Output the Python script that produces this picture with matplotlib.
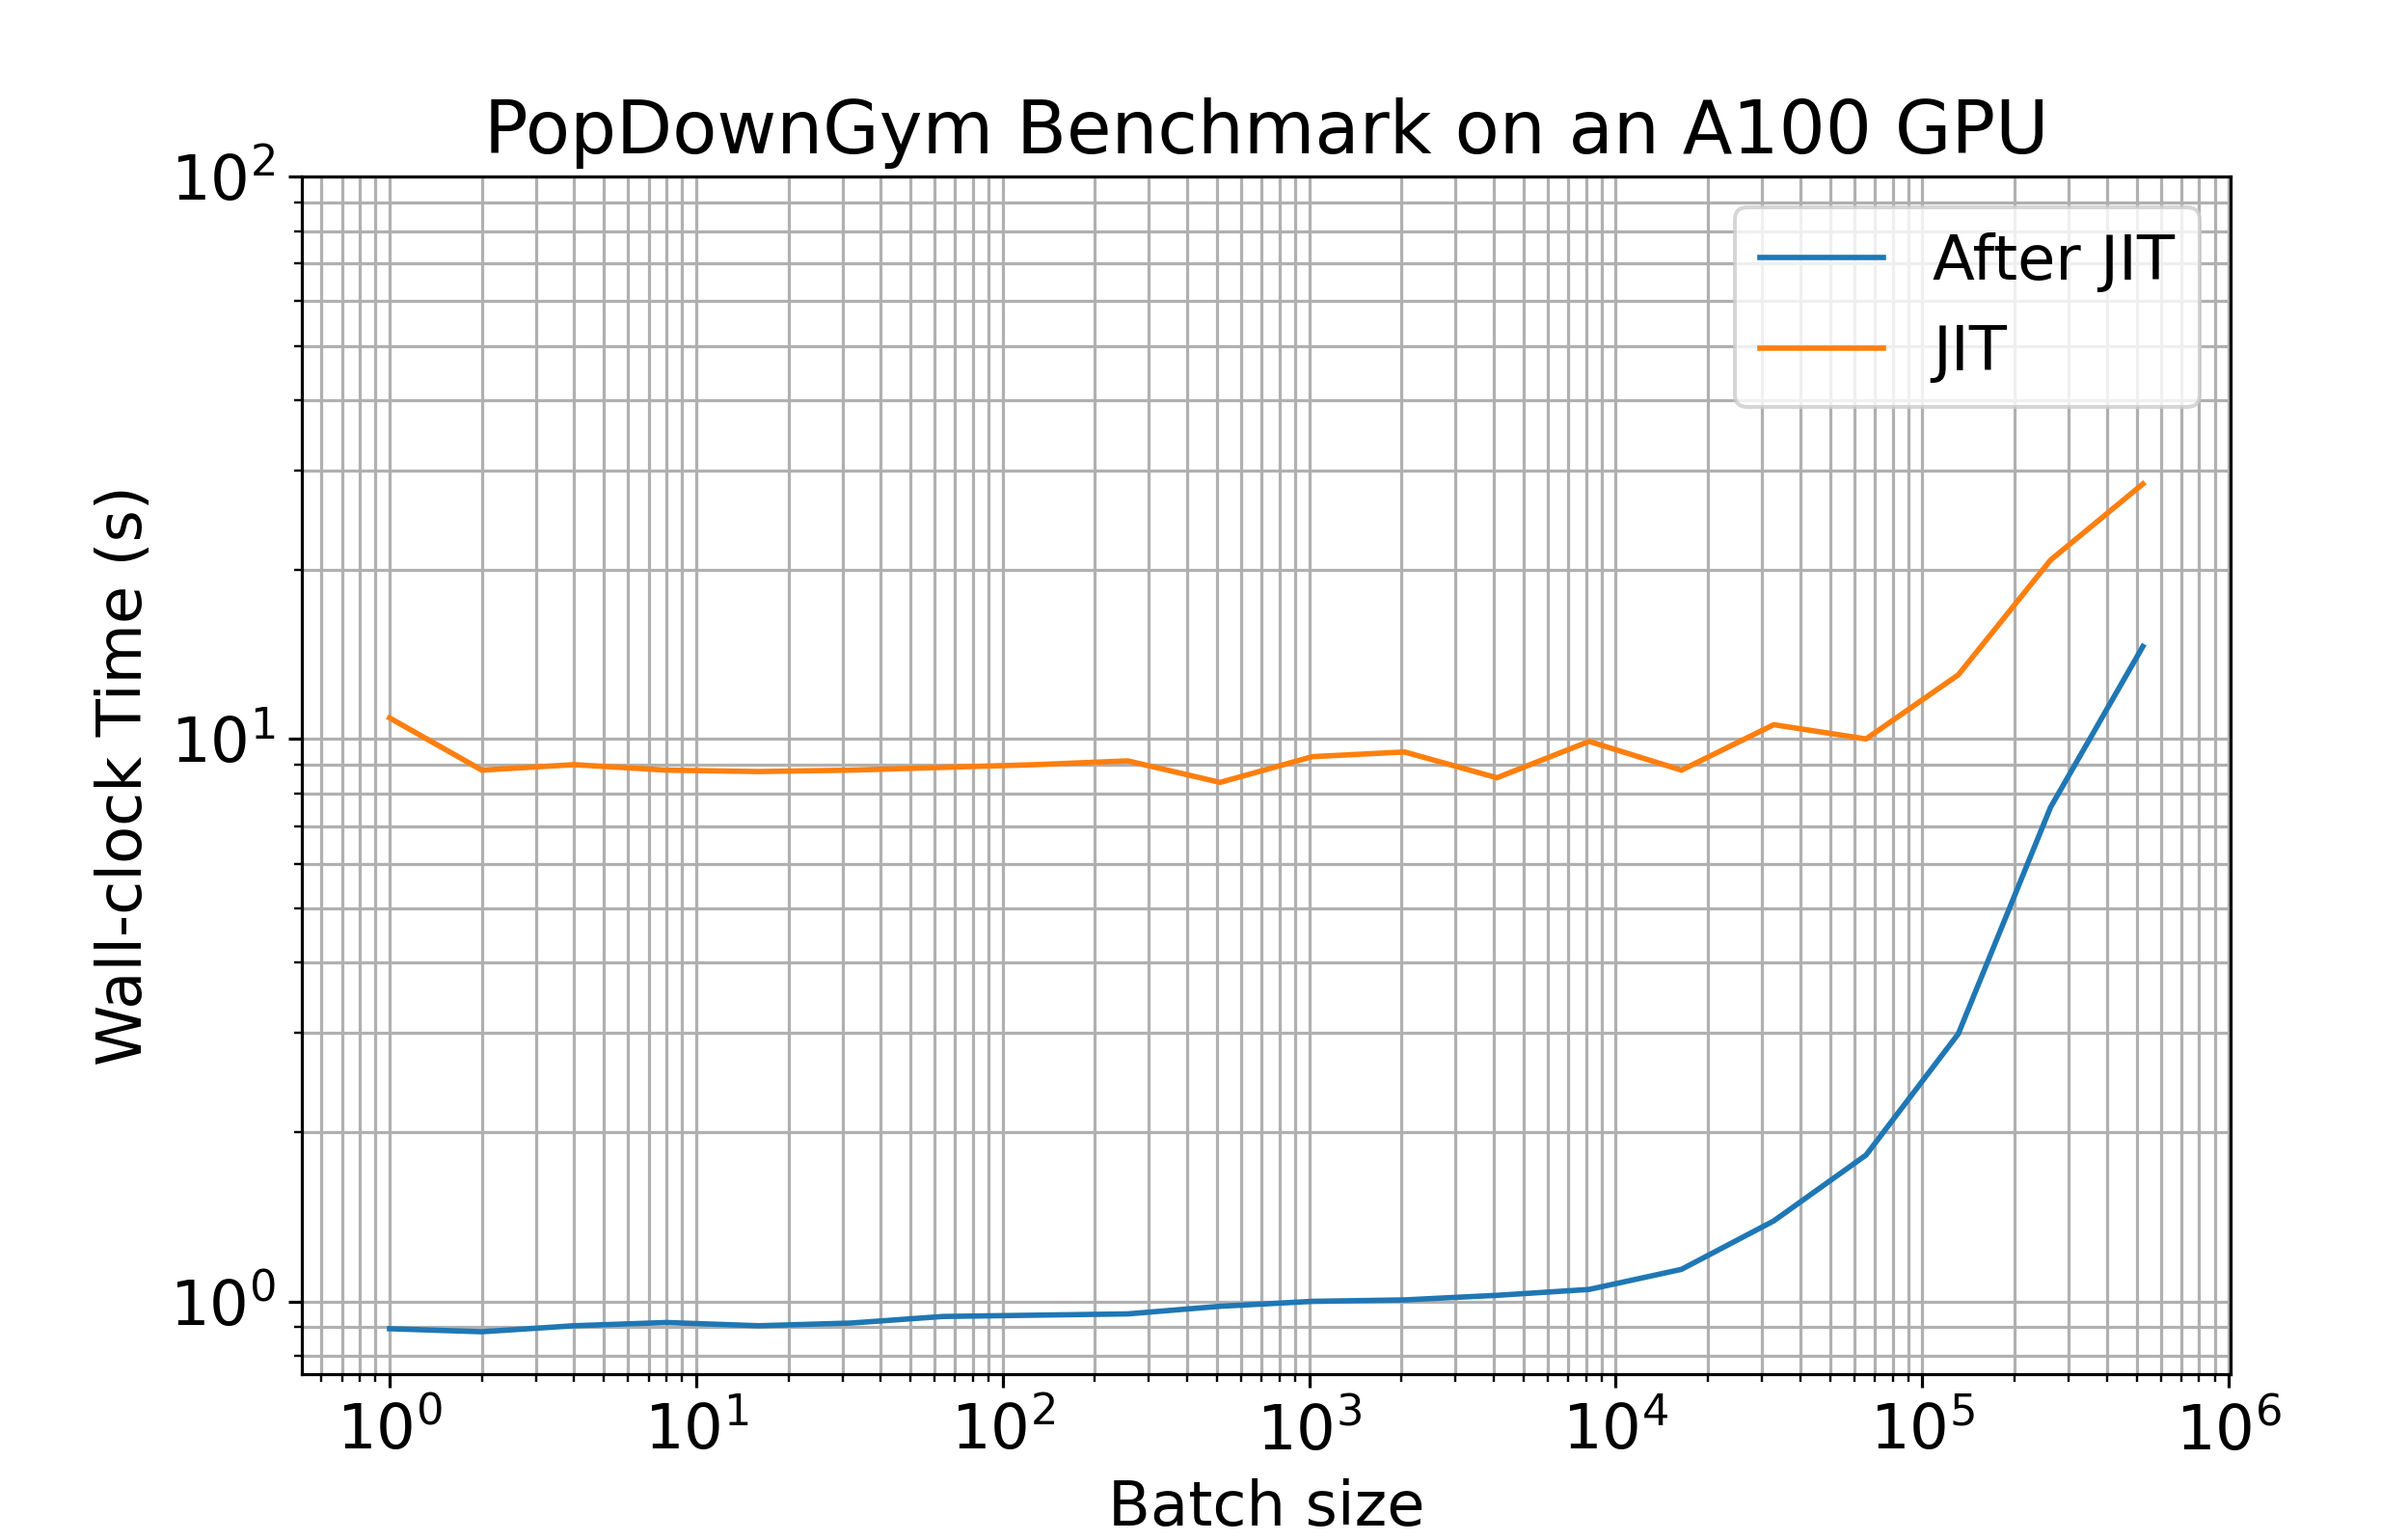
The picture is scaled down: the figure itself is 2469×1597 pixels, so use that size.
import matplotlib
matplotlib.use("Agg")
import matplotlib.pyplot as plt
import numpy as np

plt.rcParams["font.size"] = 16

# ── Data ──────────────────────────────────────────────────────────────────────
batch_sizes = [2 ** i for i in range(20)]
after_jit = [0.894, 0.883, 0.905, 0.917, 0.905, 0.915, 0.94, 0.945, 0.95, 0.98,
             1.0, 1.006, 1.025, 1.05, 1.14, 1.39, 1.82, 2.99, 7.56, 14.6]
jit = [10.9, 8.8, 9.0, 8.8, 8.75, 8.8, 8.9, 9.0, 9.14, 8.37,
       9.3, 9.48, 8.53, 9.9, 8.8, 10.6, 10.0, 13.0, 20.8, 28.4]


def main():
    fig = plt.figure(figsize=(2469 / 288, 1597 / 288), dpi=288)
    ax = fig.add_axes([0.1268, 0.1077, 0.8100, 0.7777])

    ax.plot(batch_sizes, after_jit, label="After JIT", linewidth=1.4)
    ax.plot(batch_sizes, jit, label="JIT", linewidth=1.4)
    ax.set_xscale("log")
    ax.set_yscale("log")
    ax.set_ylim(top=100)

    ax.grid(True, which="both")
    ax.set_xlabel("Batch size")
    ax.set_ylabel("Wall-clock Time (s)")
    ax.set_title("PopDownGym Benchmark on an A100 GPU", fontsize=18.9)
    ax.legend(loc="upper right")

    fig.savefig("out.png", dpi=288, facecolor="white")
    plt.close(fig)


if __name__ == "__main__":
    main()
